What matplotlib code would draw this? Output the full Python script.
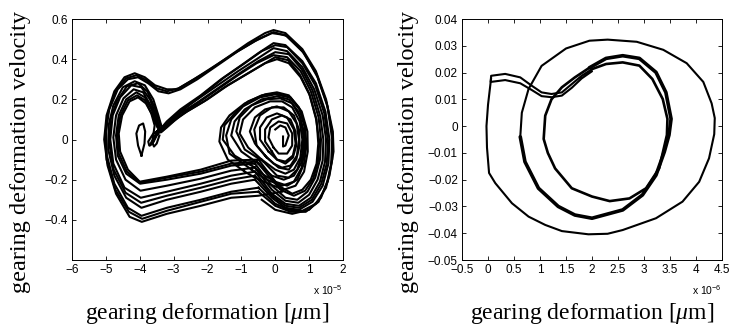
import numpy as np
import matplotlib.pyplot as plt
from matplotlib.ticker import FuncFormatter

plt.rcParams['mathtext.fontset'] = 'custom'
plt.rcParams['mathtext.rm'] = 'Liberation Sans'
plt.rcParams['mathtext.it'] = 'Liberation Serif:italic'

# ---- left panel: chaotic attractor, x in units of 1e-5 ----
# strands through the upper band
upper_a = [(0.2, -0.26), (-0.5, -0.28), (-1.3, -0.29), (-2.2, -0.33), (-3.2, -0.37), (-3.94, -0.41),
           (-4.3, -0.385), (-4.7, -0.27), (-4.95, -0.13), (-5.05, 0.0), (-4.98, 0.12), (-4.75, 0.24),
           (-4.45, 0.31), (-4.15, 0.33), (-3.85, 0.31), (-3.55, 0.27), (-3.2, 0.25), (-2.9, 0.25),
           (-2.5, 0.29), (-2.0, 0.34), (-1.4, 0.41), (-0.8, 0.48), (-0.3, 0.53), (-0.05, 0.545),
           (0.3, 0.53), (0.8, 0.45), (1.2, 0.34), (1.5, 0.2), (1.7, 0.04), (1.72, -0.06), (1.6, -0.18),
           (1.35, -0.29), (1.0, -0.35), (0.5, -0.37), (0.0, -0.35), (-0.4, -0.3)]
upper_b = [(-0.5, -0.24), (-1.3, -0.26), (-2.2, -0.30), (-3.2, -0.34), (-3.95, -0.38), (-4.35, -0.34),
           (-4.75, -0.22), (-4.97, -0.08), (-5.0, 0.04), (-4.9, 0.15), (-4.65, 0.25), (-4.35, 0.30),
           (-4.05, 0.31), (-3.75, 0.28), (-3.45, 0.24), (-3.15, 0.23), (-2.8, 0.25), (-2.3, 0.3),
           (-1.7, 0.37), (-1.1, 0.44), (-0.5, 0.5), (-0.05, 0.535), (0.35, 0.515), (0.85, 0.43),
           (1.25, 0.31), (1.55, 0.16), (1.68, 0.0), (1.65, -0.12), (1.5, -0.24), (1.2, -0.32),
           (0.8, -0.355), (0.4, -0.35), (0.0, -0.32), (-0.5, -0.24)]
upper_c = [(-0.5, -0.26), (-1.3, -0.27), (-2.2, -0.31), (-3.2, -0.355), (-3.93, -0.395), (-4.32, -0.36),
           (-4.72, -0.25), (-4.98, -0.1), (-5.02, 0.02), (-4.93, 0.14), (-4.7, 0.245), (-4.4, 0.305),
           (-4.1, 0.32), (-3.8, 0.295), (-3.5, 0.255), (-3.2, 0.24), (-2.85, 0.255), (-2.4, 0.3),
           (-1.8, 0.365), (-1.2, 0.43), (-0.6, 0.49), (-0.1, 0.53), (0.3, 0.52), (0.8, 0.44),
           (1.22, 0.325), (1.52, 0.18), (1.7, 0.02), (1.68, -0.1), (1.55, -0.21), (1.28, -0.31),
           (0.9, -0.36), (0.45, -0.36), (0.0, -0.33), (-0.5, -0.26)]
# strands through the notch and the main diagonal band
main_c = [(-0.6, -0.2), (-1.3, -0.22), (-2.2, -0.26), (-3.2, -0.3), (-3.95, -0.34), (-4.4, -0.29),
          (-4.75, -0.18), (-4.93, -0.05), (-4.92, 0.07), (-4.78, 0.17), (-4.5, 0.26), (-4.15, 0.29),
          (-3.85, 0.27), (-3.6, 0.2), (-3.45, 0.12), (-3.35, 0.06), (-3.2, 0.09), (-2.8, 0.15),
          (-2.2, 0.22), (-1.6, 0.3), (-1.0, 0.37), (-0.5, 0.43), (-0.05, 0.48), (0.3, 0.47),
          (0.8, 0.39), (1.2, 0.28), (1.48, 0.14), (1.6, 0.0), (1.57, -0.12), (1.4, -0.23),
          (1.1, -0.31), (0.7, -0.35), (0.3, -0.34), (-0.1, -0.29), (-0.6, -0.2)]
main_g = [(-0.6, -0.18), (-1.3, -0.2), (-2.2, -0.24), (-3.2, -0.28), (-3.96, -0.315), (-4.42, -0.265),
          (-4.77, -0.15), (-4.9, -0.02), (-4.86, 0.1), (-4.68, 0.19), (-4.38, 0.265), (-4.05, 0.28),
          (-3.78, 0.24), (-3.56, 0.16), (-3.42, 0.09), (-3.33, 0.05), (-3.15, 0.08), (-2.7, 0.15),
          (-2.1, 0.23), (-1.5, 0.31), (-0.9, 0.38), (-0.4, 0.44), (0.0, 0.47), (0.35, 0.46),
          (0.8, 0.38), (1.18, 0.27), (1.45, 0.13), (1.56, -0.01), (1.52, -0.12), (1.36, -0.22),
          (1.08, -0.3), (0.7, -0.34), (0.3, -0.33), (-0.1, -0.28), (-0.6, -0.18)]
main_d = [(-0.6, -0.16), (-1.3, -0.18), (-2.2, -0.22), (-3.2, -0.26), (-3.97, -0.29), (-4.45, -0.24),
          (-4.78, -0.12), (-4.87, 0.0), (-4.8, 0.12), (-4.58, 0.21), (-4.25, 0.27), (-3.95, 0.26),
          (-3.7, 0.2), (-3.52, 0.12), (-3.4, 0.05), (-3.25, 0.07), (-2.9, 0.13), (-2.3, 0.2),
          (-1.7, 0.27), (-1.1, 0.34), (-0.55, 0.4), (-0.05, 0.455), (0.35, 0.44), (0.8, 0.36),
          (1.15, 0.25), (1.4, 0.12), (1.5, 0.0), (1.47, -0.11), (1.32, -0.21), (1.05, -0.29),
          (0.7, -0.33), (0.3, -0.32), (-0.1, -0.27), (-0.6, -0.16)]
main_h = [(-0.6, -0.14), (-1.3, -0.155), (-2.2, -0.195), (-3.2, -0.23), (-3.98, -0.255), (-4.42, -0.2),
          (-4.7, -0.1), (-4.78, 0.01), (-4.7, 0.12), (-4.48, 0.205), (-4.18, 0.25), (-3.9, 0.235),
          (-3.68, 0.17), (-3.5, 0.1), (-3.37, 0.045), (-3.2, 0.065), (-2.85, 0.125), (-2.25, 0.19),
          (-1.65, 0.26), (-1.05, 0.33), (-0.5, 0.39), (0.0, 0.435), (0.4, 0.425), (0.78, 0.35),
          (1.1, 0.245), (1.33, 0.115), (1.42, 0.0), (1.4, -0.105), (1.25, -0.2), (1.0, -0.275),
          (0.68, -0.315), (0.3, -0.305), (-0.1, -0.25), (-0.6, -0.14)]
main_e = [(-0.6, -0.12), (-1.3, -0.13), (-2.2, -0.17), (-3.2, -0.2), (-3.99, -0.22), (-4.4, -0.17),
          (-4.65, -0.08), (-4.7, 0.02), (-4.62, 0.12), (-4.4, 0.2), (-4.1, 0.235), (-3.85, 0.21),
          (-3.65, 0.15), (-3.5, 0.08), (-3.38, 0.035), (-3.2, 0.06), (-2.8, 0.12), (-2.3, 0.18),
          (-1.7, 0.25), (-1.1, 0.32), (-0.55, 0.38), (-0.05, 0.42), (0.35, 0.41), (0.75, 0.34),
          (1.05, 0.24), (1.28, 0.11), (1.35, 0.0), (1.32, -0.1), (1.18, -0.19), (0.95, -0.26),
          (0.65, -0.3), (0.3, -0.29), (-0.1, -0.23), (-0.6, -0.12)]
main_i = [(-0.55, -0.11), (-1.3, -0.12), (-2.2, -0.16), (-3.2, -0.19), (-4.0, -0.215), (-4.38, -0.16),
          (-4.62, -0.07), (-4.66, 0.025), (-4.57, 0.12), (-4.35, 0.195), (-4.08, 0.22), (-3.84, 0.195),
          (-3.66, 0.13), (-3.56, 0.07), (-3.62, 0.0), (-3.7, -0.03), (-3.6, -0.01), (-3.45, 0.04),
          (-3.25, 0.07), (-2.7, 0.13), (-2.1, 0.19), (-1.5, 0.26), (-0.9, 0.32), (-0.4, 0.37),
          (0.0, 0.41), (0.38, 0.395), (0.72, 0.325), (1.0, 0.23), (1.2, 0.105), (1.3, -0.01),
          (1.26, -0.11), (1.12, -0.195), (0.88, -0.255), (0.55, -0.28), (0.15, -0.25), (-0.55, -0.11)]
main_f = [(-0.5, -0.1), (-1.3, -0.105), (-2.2, -0.15), (-3.2, -0.185), (-4.0, -0.21), (-4.35, -0.15),
          (-4.58, -0.06), (-4.62, 0.03), (-4.52, 0.12), (-4.3, 0.19), (-4.05, 0.21), (-3.82, 0.18),
          (-3.62, 0.12), (-3.48, 0.06), (-3.35, 0.04), (-3.1, 0.08), (-2.6, 0.14), (-2.0, 0.2),
          (-1.4, 0.27), (-0.8, 0.33), (-0.3, 0.38), (0.05, 0.40), (0.4, 0.38), (0.75, 0.31),
          (1.02, 0.22), (1.22, 0.1), (1.27, -0.02), (1.22, -0.12), (1.05, -0.2), (0.8, -0.25),
          (0.5, -0.27), (0.1, -0.23), (-0.5, -0.1)]
# nested loops of the right scroll
scroll_1 = [(-0.9, -0.16), (-1.4, -0.1), (-1.65, -0.01), (-1.6, 0.06), (-1.35, 0.12), (-0.9, 0.18),
            (-0.4, 0.22), (0.0, 0.23), (0.45, 0.21), (0.78, 0.14), (0.95, 0.04), (0.96, -0.06),
            (0.85, -0.16), (0.6, -0.23), (0.25, -0.25), (-0.2, -0.22), (-0.6, -0.19), (-0.9, -0.16)]
scroll_2 = [(-0.6, -0.14), (-1.2, -0.08), (-1.55, 0.0), (-1.5, 0.07), (-1.2, 0.13), (-0.8, 0.19),
            (-0.3, 0.225), (0.05, 0.235), (0.4, 0.22), (0.7, 0.16), (0.88, 0.07), (0.92, -0.03),
            (0.85, -0.12), (0.65, -0.2), (0.35, -0.23), (0.0, -0.21), (-0.4, -0.17), (-0.6, -0.14)]
scroll_8 = [(-0.7, -0.15), (-1.35, -0.07), (-1.45, 0.02), (-1.3, 0.1), (-0.95, 0.165), (-0.45, 0.21),
            (0.0, 0.225), (0.42, 0.21), (0.72, 0.15), (0.87, 0.06), (0.88, -0.04), (0.78, -0.14),
            (0.55, -0.21), (0.2, -0.23), (-0.25, -0.2), (-0.7, -0.15)]
scroll_3 = [(-0.5, -0.12), (-1.0, -0.06), (-1.3, 0.02), (-1.2, 0.09), (-0.9, 0.15), (-0.4, 0.2),
            (0.05, 0.215), (0.4, 0.2), (0.68, 0.14), (0.83, 0.05), (0.85, -0.04), (0.76, -0.12),
            (0.55, -0.18), (0.25, -0.2), (-0.1, -0.18), (-0.5, -0.12)]
scroll_9 = [(-0.35, -0.11), (-0.9, -0.05), (-1.15, 0.04), (-1.05, 0.11), (-0.7, 0.17), (-0.25, 0.2),
            (0.15, 0.205), (0.5, 0.18), (0.74, 0.11), (0.83, 0.02), (0.8, -0.07), (0.65, -0.15),
            (0.4, -0.19), (0.05, -0.18), (-0.35, -0.11)]
scroll_4 = [(-0.4, -0.1), (-0.8, -0.04), (-1.05, 0.03), (-0.95, 0.1), (-0.6, 0.16), (-0.15, 0.19),
            (0.2, 0.19), (0.5, 0.16), (0.72, 0.09), (0.8, 0.0), (0.74, -0.09), (0.55, -0.15),
            (0.3, -0.17), (0.0, -0.15), (-0.4, -0.1)]
scroll_5 = [(-0.3, -0.08), (-0.6, -0.02), (-0.75, 0.04), (-0.6, 0.11), (-0.3, 0.15), (0.05, 0.165),
            (0.4, 0.14), (0.63, 0.08), (0.7, 0.0), (0.64, -0.08), (0.45, -0.13), (0.2, -0.14),
            (-0.05, -0.12), (-0.3, -0.08)]
scroll_10 = [(-0.25, -0.09), (-0.55, -0.03), (-0.62, 0.05), (-0.45, 0.12), (-0.1, 0.16), (0.25, 0.16),
             (0.55, 0.12), (0.7, 0.05), (0.72, -0.03), (0.62, -0.1), (0.4, -0.15), (0.1, -0.14),
             (-0.25, -0.09)]
scroll_6 = [(-0.2, -0.06), (-0.45, 0.0), (-0.45, 0.06), (-0.25, 0.11), (0.05, 0.13), (0.35, 0.11),
            (0.55, 0.05), (0.6, -0.02), (0.52, -0.08), (0.3, -0.11), (0.05, -0.1), (-0.2, -0.06)]
scroll_11 = [(-0.1, -0.06), (-0.3, -0.01), (-0.3, 0.05), (-0.1, 0.1), (0.2, 0.12), (0.45, 0.1),
             (0.6, 0.04), (0.62, -0.03), (0.52, -0.09), (0.3, -0.12), (0.05, -0.1), (-0.1, -0.06)]
scroll_7 = [(-0.05, -0.04), (-0.2, 0.01), (-0.15, 0.06), (0.1, 0.09), (0.35, 0.08), (0.5, 0.03),
            (0.5, -0.03), (0.35, -0.07), (0.1, -0.07), (-0.05, -0.04)]
scroll_core = [(0.0, 0.05), (0.15, 0.07), (0.3, 0.06), (0.4, 0.02), (0.3, -0.03), (0.23, -0.035),
               (0.23, 0.015)]
# small loops inside the left scroll
left_loop_1 = [(-3.95, -0.08), (-4.05, -0.03), (-4.1, 0.03), (-4.02, 0.07), (-3.9, 0.08),
               (-3.84, 0.04), (-3.86, -0.02), (-3.95, -0.08)]
left_loop_2 = [(-3.4, 0.05), (-3.6, 0.03), (-3.75, -0.01), (-3.72, -0.03), (-3.62, -0.02),
               (-3.55, 0.02), (-3.45, 0.05)]
left_loop_3 = [(-3.35, 0.05), (-3.5, 0.02), (-3.62, -0.02), (-3.58, -0.035), (-3.5, -0.02),
               (-3.42, 0.02)]

left_strands = [upper_a, upper_b, upper_c, main_c, main_g, main_d, main_h, main_e, main_i, main_f,
                scroll_1, scroll_2, scroll_8, scroll_3, scroll_9, scroll_4, scroll_5, scroll_10,
                scroll_6, scroll_11, scroll_7, scroll_core, left_loop_1, left_loop_2, left_loop_3]

# ---- right panel: periodic orbit, x in units of 1e-6 ----
orbit_outer = [(0.06, 0.018), (0.0, 0.008), (-0.03, 0.0), (-0.02, -0.008), (0.02, -0.0175),
               (0.14, -0.0213), (0.46, -0.0288), (0.78, -0.0338), (1.10, -0.0369), (1.42, -0.0392),
               (1.93, -0.0404), (2.3, -0.0402), (2.59, -0.0388), (3.23, -0.0344), (3.74, -0.0282),
               (4.06, -0.0208), (4.25, -0.012), (4.35, -0.003), (4.36, 0.003), (4.3, 0.0085),
               (4.14, 0.0165), (3.82, 0.0235), (3.37, 0.0285), (2.86, 0.0315), (2.3, 0.0323),
               (1.95, 0.0319), (1.5, 0.029), (1.03, 0.0225), (0.78, 0.0139), (0.65, 0.005),
               (0.62, -0.004)]
orbit_middle = [(0.62, -0.004), (0.71, -0.0133), (0.97, -0.0232), (1.35, -0.030), (1.67, -0.0332),
                (2.0, -0.0344), (2.59, -0.0313), (2.97, -0.0257), (3.23, -0.0183), (3.39, -0.0096),
                (3.48, -0.0033), (3.52, 0.0027), (3.42, 0.0126), (3.23, 0.0201), (2.91, 0.0253),
                (2.59, 0.0263), (2.27, 0.0253), (1.95, 0.0218)]
orbit_inner = [(1.95, 0.0218), (1.67, 0.0182), (1.42, 0.0145), (1.22, 0.010), (1.10, 0.0039),
               (1.07, -0.0048), (1.15, -0.01), (1.29, -0.0158), (1.61, -0.0232), (2.0, -0.0263),
               (2.34, -0.028), (2.72, -0.027), (3.04, -0.0232), (3.29, -0.0158), (3.44, -0.0033),
               (3.45, 0.0027), (3.36, 0.0101), (3.16, 0.0176), (2.91, 0.0226), (2.59, 0.0238),
               (2.27, 0.0232), (2.0, 0.0213)]
orbit_band = [(2.0, 0.0213), (1.8, 0.0188), (1.61, 0.0157), (1.42, 0.0126), (1.22, 0.012),
              (1.03, 0.0126), (0.84, 0.0151), (0.62, 0.0182), (0.33, 0.0195), (0.06, 0.0188),
              (0.05, 0.0165), (0.33, 0.0172), (0.62, 0.016), (0.84, 0.0135), (1.03, 0.0112),
              (1.22, 0.0108), (1.42, 0.0114), (1.61, 0.0143), (1.8, 0.0178), (2.0, 0.0205)]

left_xticks = [-6, -5, -4, -3, -2, -1, 0, 1, 2]
left_yticks = [-0.4, -0.2, 0, 0.2, 0.4, 0.6]
right_xticks = [-0.5, 0, 0.5, 1, 1.5, 2, 2.5, 3, 3.5, 4, 4.5]
right_yticks = [-0.05, -0.04, -0.03, -0.02, -0.01, 0, 0.01, 0.02, 0.03, 0.04]

fmt = FuncFormatter(lambda v, p: ('%g' % v).replace('-', '\u2212'))
serif = ['Liberation Serif', 'DejaVu Serif']

fig = plt.figure(figsize=(7.37, 3.29), dpi=100)
ax1 = fig.add_axes([0.0977, 0.2097, 0.3677, 0.7325])
ax2 = fig.add_axes([0.6269, 0.2097, 0.3528, 0.7325])

for s in left_strands:
    a = np.array(s)
    ax1.plot(a[:, 0], a[:, 1], color='black', lw=1.5)

for seg, w in [(orbit_outer, 1.5), (orbit_middle, 2.6), (orbit_inner, 1.9), (orbit_band, 1.5)]:
    a = np.array(seg)
    ax2.plot(a[:, 0], a[:, 1], color='black', lw=w, solid_capstyle='round')

ax1.set_xlim(-6, 2)
ax1.set_ylim(-0.6, 0.6)
ax1.set_xticks(left_xticks)
ax1.set_yticks(left_yticks)
ax2.set_xlim(-0.5, 4.5)
ax2.set_ylim(-0.05, 0.04)
ax2.set_xticks(right_xticks)
ax2.set_yticks(right_yticks)

for ax, exp in [(ax1, '-5'), (ax2, '-6')]:
    ax.xaxis.set_major_formatter(fmt)
    ax.yaxis.set_major_formatter(fmt)
    ax.tick_params(direction='in', length=3, width=0.6, top=True, right=True,
                   labelsize=8.5, pad=3)
    for t in ax.get_xticklabels() + ax.get_yticklabels():
        t.set_family('Liberation Sans')
    for sp in ax.spines.values():
        sp.set_linewidth(0.7)
    ax.text(1.0, -0.1, 'x 10$^{%s}$' % exp.replace('-', '\u2212'), transform=ax.transAxes,
            ha='right', va='top', fontsize=7.5, family='Liberation Sans')
    ax.set_xlabel('gearing deformation [$\\mu$m]', fontsize=17, family=serif)
    ax.set_ylabel('gearing deformation velocity', fontsize=17.5, family=serif)
    ax.xaxis.set_label_coords(0.5, -0.17)

ax1.yaxis.set_label_coords(-0.15, 0.45)
ax2.yaxis.set_label_coords(-0.165, 0.45)

fig.savefig('out.png', dpi=100)
